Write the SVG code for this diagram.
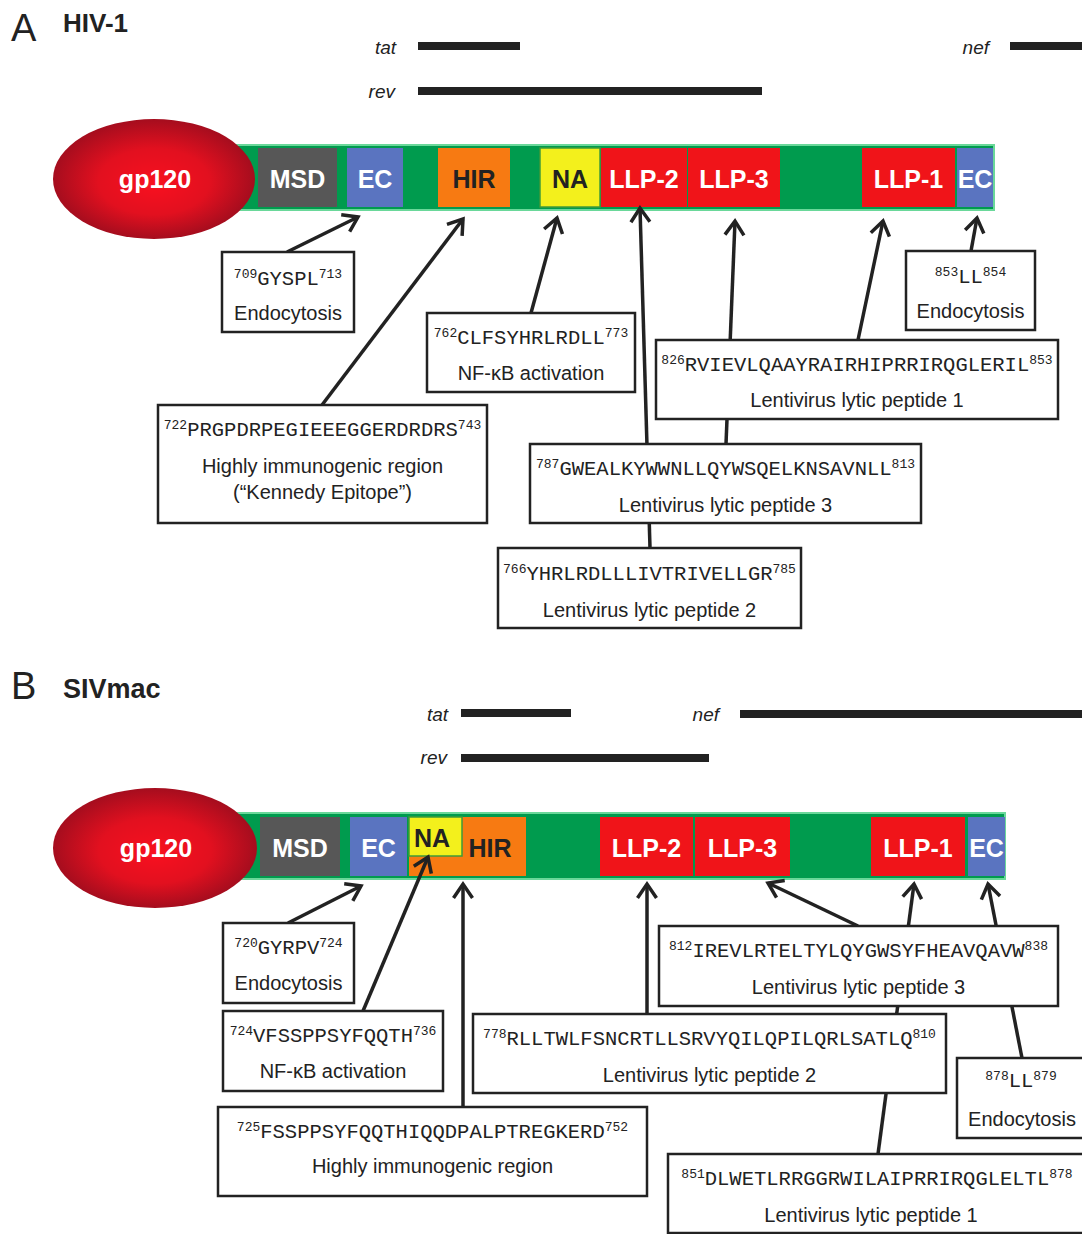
<svg xmlns="http://www.w3.org/2000/svg" width="1082" height="1234" viewBox="0 0 1082 1234">
<defs>
<radialGradient id="gp" cx="0.5" cy="0.5" r="0.5" fx="0.5" fy="0.55">
<stop offset="0" stop-color="#f8101f"/>
<stop offset="0.55" stop-color="#e2101f"/>
<stop offset="1" stop-color="#a50d1e"/>
</radialGradient>
<marker id="ah" viewBox="-18 -13 22 26" refX="0" refY="0" markerWidth="22" markerHeight="26" markerUnits="userSpaceOnUse" orient="auto">
<path d="M-14,-9.5 L0,0 L-14,9.5" fill="none" stroke="#222" stroke-width="3.5"/>
</marker>
<style>
.ttl{font-family:"Liberation Sans",Arial,sans-serif;fill:#222}
.lab{font-family:"Liberation Sans",Arial,sans-serif;font-weight:bold;font-size:25px;text-anchor:middle}
.w{fill:#fff}
.d{fill:#222}
.seq{font-family:"Liberation Mono","Courier New",monospace;font-size:20.5px;fill:#222;text-anchor:middle}
.sup{font-size:13px}
.cap{font-family:"Liberation Sans",Arial,sans-serif;font-size:20px;fill:#222;text-anchor:middle}
.box{fill:#fff;stroke:#222;stroke-width:2.5}
.conn{stroke:#222;stroke-width:3.5;fill:none}
.arr{marker-end:url(#ah)}
.gene{font-family:"Liberation Sans",Arial,sans-serif;font-style:italic;font-size:19px;fill:#222;text-anchor:end}
.bar{fill:#222}
.band{fill:#009b4e;stroke:#6ad89a;stroke-width:2}
.gray{fill:#575757}
.blue{fill:#5a74c0}
.orange{fill:#f77a12}
.yellow{fill:#f3f01c;stroke:#3f9a3a;stroke-width:1.5}
.red{fill:#f01419}
</style>
</defs>

<!-- Panel A -->
<g id="titleA">
<text class="ttl" x="11" y="41" font-size="38">A</text>
<text class="ttl" x="63" y="32" font-size="26" font-weight="bold">HIV-1</text>
</g>
<g id="genesA">
<text class="gene" x="396" y="54">tat</text>
<rect class="bar" x="418" y="42" width="102" height="8"/>
<text class="gene" x="395" y="98">rev</text>
<rect class="bar" x="418" y="87" width="344" height="8"/>
<text class="gene" x="989" y="54">nef</text>
<rect class="bar" x="1010" y="42" width="80" height="8"/>
</g>
<g id="gp41A">
<rect class="band" x="230" y="145" width="764" height="65"/>
<rect class="gray" x="258" y="148" width="79" height="59"/>
<text class="lab w" x="297.5" y="188">MSD</text>
<rect class="blue" x="347" y="148" width="56" height="59"/>
<text class="lab w" x="375" y="188">EC</text>
<rect class="orange" x="438" y="148" width="72" height="59"/>
<text class="lab d" x="474" y="188">HIR</text>
<rect class="yellow" x="540" y="148" width="60" height="59"/>
<text class="lab d" x="570" y="188">NA</text>
<rect class="red" x="601" y="148" width="86" height="59"/>
<text class="lab w" x="644" y="188">LLP-2</text>
<rect class="red" x="688" y="148" width="92" height="59"/>
<text class="lab w" x="734" y="188">LLP-3</text>
<rect class="red" x="862" y="148" width="93" height="59"/>
<text class="lab w" x="908.5" y="188">LLP-1</text>
<rect class="blue" x="957" y="148" width="36" height="59"/>
<text class="lab w" x="975" y="188">EC</text>
</g>
<g id="gp120A">
<ellipse cx="154" cy="179" rx="101" ry="60" fill="url(#gp)"/>
<text class="lab w" x="155" y="188">gp120</text>
</g>

<g id="connectorsA">
<line class="conn arr" x1="287" y1="252" x2="358" y2="217"/>
<line class="conn arr" x1="322" y1="405" x2="463" y2="219"/>
<line class="conn arr" x1="531" y1="313" x2="557" y2="218"/>
<line class="conn arr" x1="650" y1="548" x2="640" y2="208"/>
<line class="conn arr" x1="726" y1="444" x2="735" y2="221"/>
<line class="conn arr" x1="858" y1="340" x2="883" y2="221"/>
<line class="conn arr" x1="971" y1="251" x2="977" y2="218"/>
</g>

<g id="endoA">
<rect class="box" x="222" y="252" width="132" height="80"/>
<text class="seq" x="288" y="285"><tspan class="sup" dy="-7">709</tspan><tspan dy="7">GYSPL</tspan><tspan class="sup" dy="-7">713</tspan></text>
<text class="cap" x="288" y="320">Endocytosis</text>
</g>
<g id="hirA">
<rect class="box" x="158" y="405" width="329" height="118"/>
<text class="seq" x="322.5" y="436"><tspan class="sup" dy="-7">722</tspan><tspan dy="7">PRGPDRPEGIEEEGGERDRDRS</tspan><tspan class="sup" dy="-7">743</tspan></text>
<text class="cap" x="322.5" y="473">Highly immunogenic region</text>
<text class="cap" x="322.5" y="499">(“Kennedy Epitope”)</text>
</g>
<g id="nfA">
<rect class="box" x="427" y="313" width="208" height="79"/>
<text class="seq" x="531" y="344"><tspan class="sup" dy="-7">762</tspan><tspan dy="7">CLFSYHRLRDLL</tspan><tspan class="sup" dy="-7">773</tspan></text>
<text class="cap" x="531" y="380">NF-κB activation</text>
</g>
<g id="llp1A">
<rect class="box" x="656" y="340" width="402" height="79"/>
<text class="seq" x="857" y="371"><tspan class="sup" dy="-7">826</tspan><tspan dy="7">RVIEVLQAAYRAIRHIPRRIRQGLERIL</tspan><tspan class="sup" dy="-7">853</tspan></text>
<text class="cap" x="857" y="407">Lentivirus lytic peptide 1</text>
</g>
<g id="llp3A">
<rect class="box" x="530" y="444" width="391" height="79"/>
<text class="seq" x="725.5" y="475"><tspan class="sup" dy="-7">787</tspan><tspan dy="7">GWEALKYWWNLLQYWSQELKNSAVNLL</tspan><tspan class="sup" dy="-7">813</tspan></text>
<text class="cap" x="725.5" y="512">Lentivirus lytic peptide 3</text>
</g>
<g id="llp2A">
<rect class="box" x="498" y="548" width="303" height="80"/>
<text class="seq" x="649.5" y="580"><tspan class="sup" dy="-7">766</tspan><tspan dy="7">YHRLRDLLLIVTRIVELLGR</tspan><tspan class="sup" dy="-7">785</tspan></text>
<text class="cap" x="649.5" y="617">Lentivirus lytic peptide 2</text>
</g>
<g id="ecA">
<rect class="box" x="906" y="251" width="129" height="79"/>
<text class="seq" x="970.5" y="283"><tspan class="sup" dy="-7">853</tspan><tspan dy="7">LL</tspan><tspan class="sup" dy="-7">854</tspan></text>
<text class="cap" x="970.5" y="318">Endocytosis</text>
</g>

<!-- Panel B -->
<g id="titleB">
<text class="ttl" x="11" y="699" font-size="38">B</text>
<text class="ttl" x="63" y="698" font-size="27" font-weight="bold">SIVmac</text>
</g>
<g id="genesB">
<text class="gene" x="448" y="721">tat</text>
<rect class="bar" x="461" y="709" width="110" height="8"/>
<text class="gene" x="447" y="764">rev</text>
<rect class="bar" x="461" y="754" width="248" height="8"/>
<text class="gene" x="719" y="721">nef</text>
<rect class="bar" x="740" y="710" width="350" height="8"/>
</g>
<g id="gp41B">
<rect class="band" x="232" y="813" width="773" height="66"/>
<rect class="gray" x="260" y="817" width="80" height="59"/>
<text class="lab w" x="300" y="857">MSD</text>
<rect class="blue" x="350" y="817" width="57" height="59"/>
<text class="lab w" x="378.5" y="857">EC</text>
<rect class="orange" x="409" y="817" width="117" height="59"/>
<text class="lab d" x="490" y="857">HIR</text>
<rect class="yellow" x="409" y="817" width="53" height="39"/>
<text class="lab d" x="432" y="847">NA</text>
<rect class="red" x="600" y="817" width="93" height="59"/>
<text class="lab w" x="646.5" y="857">LLP-2</text>
<rect class="red" x="695" y="817" width="95" height="59"/>
<text class="lab w" x="742.5" y="857">LLP-3</text>
<rect class="red" x="871" y="817" width="94" height="59"/>
<text class="lab w" x="918" y="857">LLP-1</text>
<rect class="blue" x="968" y="817" width="37" height="59"/>
<text class="lab w" x="986.5" y="857">EC</text>
</g>
<g id="gp120B">
<ellipse cx="155" cy="848" rx="102" ry="60" fill="url(#gp)"/>
<text class="lab w" x="156" y="857">gp120</text>
</g>

<g id="connectorsB">
<line class="conn arr" x1="288" y1="923" x2="361" y2="886"/>
<line class="conn arr" x1="363" y1="1011" x2="428" y2="857"/>
<line class="conn arr" x1="463" y1="1107" x2="463" y2="884"/>
<line class="conn arr" x1="647" y1="1014" x2="647" y2="884"/>
<line class="conn arr" x1="858" y1="926" x2="768" y2="883"/>
<line class="conn arr" x1="878" y1="1154" x2="914" y2="884"/>
<line class="conn arr" x1="1022" y1="1058" x2="988" y2="884"/>
</g>

<g id="endoB">
<rect class="box" x="223" y="923" width="131" height="80"/>
<text class="seq" x="288.5" y="954"><tspan class="sup" dy="-7">720</tspan><tspan dy="7">GYRPV</tspan><tspan class="sup" dy="-7">724</tspan></text>
<text class="cap" x="288.5" y="990">Endocytosis</text>
</g>
<g id="nfB">
<rect class="box" x="223" y="1011" width="220" height="80"/>
<text class="seq" x="333" y="1042"><tspan class="sup" dy="-7">724</tspan><tspan dy="7">VFSSPPSYFQQTH</tspan><tspan class="sup" dy="-7">736</tspan></text>
<text class="cap" x="333" y="1078">NF-κB activation</text>
</g>
<g id="hirB">
<rect class="box" x="218" y="1107" width="429" height="89"/>
<text class="seq" x="432.5" y="1138"><tspan class="sup" dy="-7">725</tspan><tspan dy="7">FSSPPSYFQQTHIQQDPALPTREGKERD</tspan><tspan class="sup" dy="-7">752</tspan></text>
<text class="cap" x="432.5" y="1173">Highly immunogenic region</text>
</g>
<g id="llp2B">
<rect class="box" x="473" y="1014" width="473" height="79"/>
<text class="seq" x="709.5" y="1045"><tspan class="sup" dy="-7">778</tspan><tspan dy="7">RLLTWLFSNCRTLLSRVYQILQPILQRLSATLQ</tspan><tspan class="sup" dy="-7">810</tspan></text>
<text class="cap" x="709.5" y="1082">Lentivirus lytic peptide 2</text>
</g>
<g id="llp3B">
<rect class="box" x="659" y="926" width="399" height="80"/>
<text class="seq" x="858.5" y="957"><tspan class="sup" dy="-7">812</tspan><tspan dy="7">IREVLRTELTYLQYGWSYFHEAVQAVW</tspan><tspan class="sup" dy="-7">838</tspan></text>
<text class="cap" x="858.5" y="994">Lentivirus lytic peptide 3</text>
</g>
<g id="ecB">
<rect class="box" x="957" y="1058" width="133" height="80"/>
<text class="seq" x="1021" y="1087"><tspan class="sup" dy="-7">878</tspan><tspan dy="7">LL</tspan><tspan class="sup" dy="-7">879</tspan></text>
<text class="cap" x="1022" y="1126">Endocytosis</text>
</g>
<g id="llp1B">
<rect class="box" x="668" y="1154" width="422" height="79"/>
<text class="seq" x="877" y="1185"><tspan class="sup" dy="-7">851</tspan><tspan dy="7">DLWETLRRGGRWILAIPRRIRQGLELTL</tspan><tspan class="sup" dy="-7">878</tspan></text>
<text class="cap" x="871" y="1222">Lentivirus lytic peptide 1</text>
</g>
</svg>
